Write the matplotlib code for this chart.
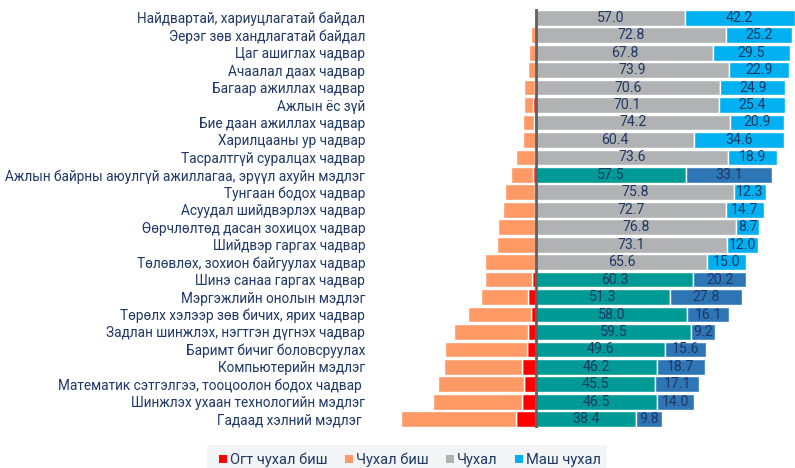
import matplotlib
matplotlib.use("Agg")
import matplotlib.pyplot as plt
from matplotlib.patches import Patch, Rectangle
import numpy as np

plt.rcParams['font.family'] = ['Roboto', 'DejaVu Sans']

categories = [
    "Найдвартай, хариуцлагатай байдал",
    "Эерэг зөв хандлагатай байдал",
    "Цаг ашиглах чадвар",
    "Ачаалал даах чадвар",
    "Багаар ажиллах чадвар",
    "Ажлын ёс зүй",
    "Бие даан ажиллах чадвар",
    "Харилцааны ур чадвар",
    "Тасралтгүй суралцах чадвар",
    "Ажлын байрны аюулгүй ажиллагаа, эрүүл ахуйн мэдлэг",
    "Тунгаан бодох чадвар",
    "Асуудал шийдвэрлэх чадвар",
    "Өөрчлөлтөд дасан зохицох чадвар",
    "Шийдвэр гаргах чадвар",
    "Төлөвлөх, зохион байгуулах чадвар",
    "Шинэ санаа гаргах чадвар",
    "Мэргэжлийн онолын мэдлэг",
    "Төрөлх хэлээр зөв бичих, ярих чадвар",
    "Задлан шинжлэх, нэгтгэн дүгнэх чадвар",
    "Баримт бичиг боловсруулах",
    "Компьютерийн мэдлэг",
    "Математик сэтгэлгээ, тооцоолон бодох чадвар ",
    "Шинжлэх ухаан технологийн мэдлэг",
    "Гадаад хэлний мэдлэг ",
]

not_at_all = [0.1, 0.1, 0.1, 0.1, 0.2, 1.0, 0.6, 0.1, 0.2, 1.0, 0.5, 0.2,
              0.1, 0.1, 0.1, 1.5, 3.1, 1.8, 3.2, 3.5, 5.3, 4.7, 5.5, 7.8]
not_important = [0.7, 1.9, 2.6, 3.1, 4.3, 3.5, 4.3, 4.9, 7.3, 8.4, 11.4, 12.4,
                 14.4, 14.8, 19.3, 18.0, 17.8, 24.1, 28.1, 31.3, 29.8, 32.7, 34.0, 44.0]
important = [57.0, 72.8, 67.8, 73.9, 70.6, 70.1, 74.2, 60.4, 73.6, 57.5, 75.8, 72.7,
             76.8, 73.1, 65.6, 60.3, 51.3, 58.0, 59.5, 49.6, 46.2, 45.5, 46.5, 38.4]
very_important = [42.2, 25.2, 29.5, 22.9, 24.9, 25.4, 20.9, 34.6, 18.9, 33.1, 12.3, 14.7,
                  8.7, 12.0, 15.0, 20.2, 27.8, 16.1, 9.2, 15.6, 18.7, 17.1, 14.0, 9.8]
highlighted = [False] * 9 + [True] + [False] * 5 + [True] * 9

legend_labels = ["Огт чухал биш", "Чухал биш", "Чухал", "Маш чухал"]

C_RED = "#FF0000"
C_ORANGE = "#FF9966"
C_GRAY = "#B1B2B4"
C_LBLUE = "#00B0F0"
C_TEAL = "#009A96"
C_DBLUE = "#2E75B6"
TXT = "#1F3864"

W, H = 795, 468
fig = plt.figure(figsize=(W / 100, H / 100), dpi=100)
ax_l, ax_r = 395, 795
ax_t, ax_b = 9, 428
ax = fig.add_axes([ax_l / W, 1 - ax_b / H, (ax_r - ax_l) / W, (ax_b - ax_t) / H])

zero_px = 536
scale = 2.61
ax.set_xlim(-(zero_px - ax_l) / scale, (ax_r - zero_px) / scale)
n = len(categories)
ax.set_ylim(n - 0.5, -0.5)

y = np.arange(n)
na = np.array(not_at_all)
ni = np.array(not_important)
im = np.array(important)
vi = np.array(very_important)
c_imp = [C_TEAL if h else C_GRAY for h in highlighted]
c_vimp = [C_DBLUE if h else C_LBLUE for h in highlighted]

bh = 0.9
kw = dict(height=bh, edgecolor="white", linewidth=1.0)
ax.barh(y, -na, left=0, color=C_RED, **kw)
ax.barh(y, -ni, left=-na, color=C_ORANGE, **kw)
ax.barh(y, im, left=0, color=c_imp, **kw)
ax.barh(y, vi, left=im, color=c_vimp, **kw)

for i in range(n):
    ax.text(im[i] / 2, y[i], f"{im[i]:.1f}", ha="center", va="center",
            fontsize=10.2, color=TXT)
    ax.text(im[i] + vi[i] / 2, y[i], f"{vi[i]:.1f}", ha="center", va="center",
            fontsize=10.2, color=TXT)

ax.axvline(0, color="#606060", linewidth=2.0, zorder=5)

ax.set_yticks(y)
ax.set_yticklabels(categories, fontsize=9.8, color=TXT)
ax.tick_params(axis="y", length=0, pad=21.5)
ax.set_xticks([])
for s in ax.spines.values():
    s.set_visible(False)

# legend background band
fig.patches.append(Rectangle((207 / W, 0), (607 - 207) / W, (H - 445) / H,
                             transform=fig.transFigure, facecolor="#F2F4F6",
                             edgecolor="none", zorder=0))
handles = [Patch(facecolor=c, edgecolor="none") for c in [C_RED, C_ORANGE, C_GRAY, C_LBLUE]]
leg = fig.legend(handles, legend_labels, loc="center", bbox_to_anchor=(410 / W, 1 - 460 / H),
                 ncol=4, frameon=False, fontsize=10.5, handlelength=0.55, handleheight=0.55,
                 handletextpad=0.25, columnspacing=1.15, labelcolor=TXT)

fig.savefig("out.png", dpi=100)
